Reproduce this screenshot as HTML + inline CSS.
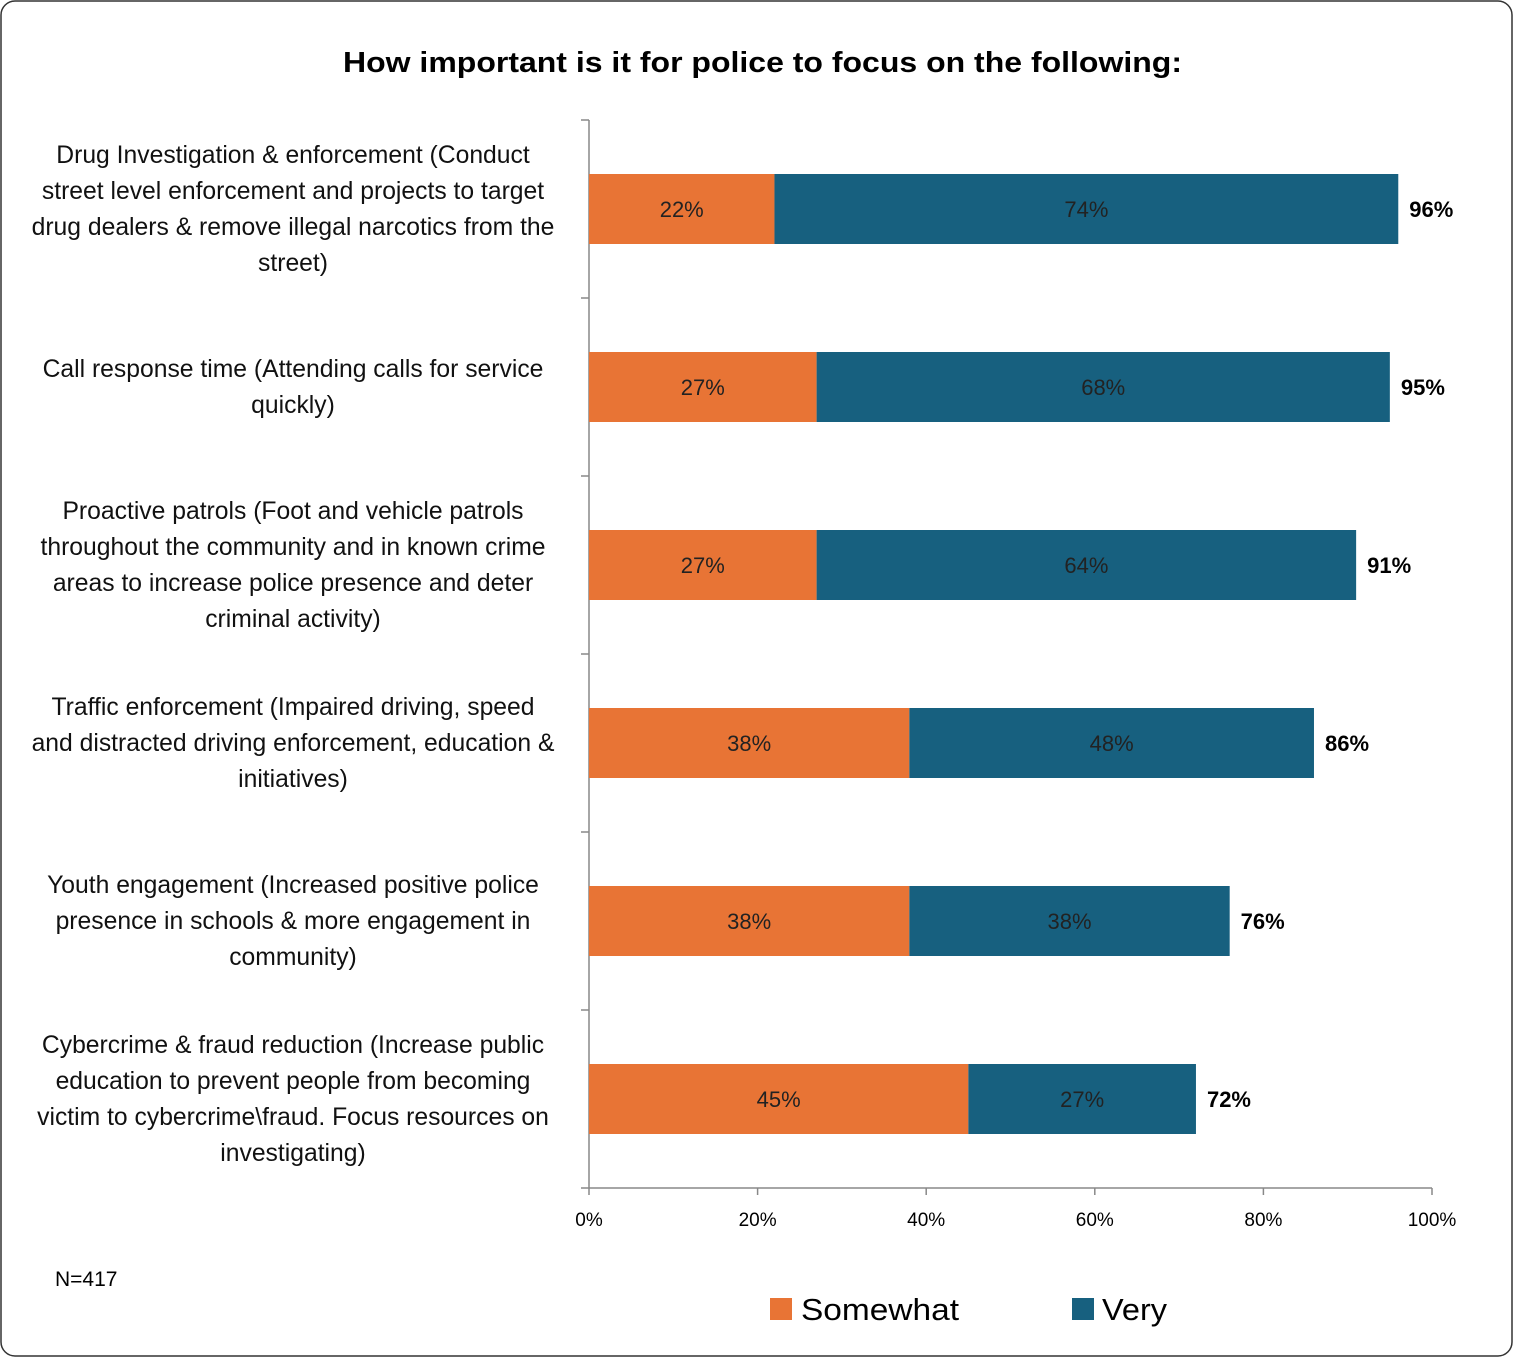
<!DOCTYPE html>
<html><head><meta charset="utf-8"><style>
body{margin:0;background:#fff;}
svg{display:block;font-family:"Liberation Sans",sans-serif;}
</style></head><body>
<svg id="chart" width="1514" height="1358">
<rect x="1" y="1" width="1511" height="1355" rx="14" fill="#fff" stroke="#333" stroke-width="1.5"/>
<text x="343" y="72" textLength="839" lengthAdjust="spacingAndGlyphs" font-size="29" font-weight="bold" fill="#000">How important is it for police to focus on the following:</text>
<g id="axes"></g><g id="bars"></g><g id="labels"></g>
<text x="55" y="1286" font-size="21" fill="#000">N=417</text>
<rect x="770" y="1298" width="22" height="22" fill="#E87435"/>
<text x="801" y="1320" font-size="31" textLength="158" lengthAdjust="spacingAndGlyphs" fill="#000">Somewhat</text>
<rect x="1072" y="1298" width="22" height="22" fill="#17607F"/>
<text x="1102" y="1320" font-size="31" textLength="65" lengthAdjust="spacingAndGlyphs" fill="#000">Very</text>
</svg>
<script>
const categories=[
["Drug Investigation & enforcement (Conduct","street level enforcement and projects to target","drug dealers & remove illegal narcotics from the","street)"],
["Call response time (Attending calls for service","quickly)"],
["Proactive patrols (Foot and vehicle patrols","throughout the community and in known crime","areas to increase police presence and deter","criminal activity)"],
["Traffic enforcement (Impaired driving, speed","and distracted driving enforcement, education &","initiatives)"],
["Youth engagement (Increased positive police","presence in schools & more engagement in","community)"],
["Cybercrime & fraud reduction (Increase public","education to prevent people from becoming","victim to cybercrime\\fraud. Focus resources on","investigating)"]];
const somewhat=[22,27,27,38,38,45];
const very=[74,68,64,48,38,27];
const xTicks=[0,20,40,60,80,100];
const NS="http://www.w3.org/2000/svg";
const x0=589,x1=1432,yTop=120,yBot=1188;
const xs=v=>x0+(x1-x0)*v/100;
const band=(yBot-yTop)/categories.length;
const yc=i=>yTop+band*(i+0.5);
function mk(tag,attrs,parent,txt){const e=document.createElementNS(NS,tag);for(const k in attrs)e.setAttribute(k,attrs[k]);if(txt!=null)e.textContent=txt;document.getElementById(parent).appendChild(e);return e;}
let e;
e=mk('line',{x1:x0,y1:yTop,x2:x0,y2:yBot,stroke:'#888','stroke-width':1.5},'axes');


e=mk('line',{x1:x0,y1:yBot,x2:x1,y2:yBot,stroke:'#888','stroke-width':1.5},'axes');


for(let i=0;i<=categories.length;i++){
 e=mk('line',{x1:x0-8,y1:yTop+band*i,x2:x0,y2:yTop+band*i,stroke:'#888','stroke-width':1.5},'axes');
 
 
}
xTicks.forEach(t=>{
 e=mk('line',{x1:xs(t),y1:yBot,x2:xs(t),y2:yBot+7,stroke:'#888','stroke-width':1.5},'axes');
 
 
 e=mk('text',{x:xs(t),y:yBot+38,'text-anchor':'middle','font-size':19,fill:'#000'},'axes',t+'%');
 
 
});
const bh=70;
categories.forEach((lines,i)=>{
 const c=yc(i);
 const lh=36, start=c-(lines.length-1)*lh/2+8;
 lines.forEach((l,j)=>{
  e=mk('text',{x:293,y:start+j*lh,'text-anchor':'middle','font-size':24.7,fill:'#111'},'labels',l);
  
  
 });
 e=mk('rect',{x:xs(0),y:c-bh/2,width:xs(somewhat[i])-xs(0),height:bh,fill:'#E87435'},'bars');
 
 
 e=mk('rect',{x:xs(somewhat[i]),y:c-bh/2,width:xs(somewhat[i]+very[i])-xs(somewhat[i]),height:bh,fill:'#17607F'},'bars');
 
 
 e=mk('text',{x:(xs(0)+xs(somewhat[i]))/2,y:c+8,'text-anchor':'middle','font-size':22,fill:'#222'},'bars',somewhat[i]+'%');
 
 
 e=mk('text',{x:(xs(somewhat[i])+xs(somewhat[i]+very[i]))/2,y:c+8,'text-anchor':'middle','font-size':22,fill:'#222'},'bars',very[i]+'%');
 
 
 e=mk('text',{x:xs(somewhat[i]+very[i])+11,y:c+8,'font-size':22,'font-weight':'bold',fill:'#000'},'bars',(somewhat[i]+very[i])+'%');
 
 
});
</script>
</body></html>
